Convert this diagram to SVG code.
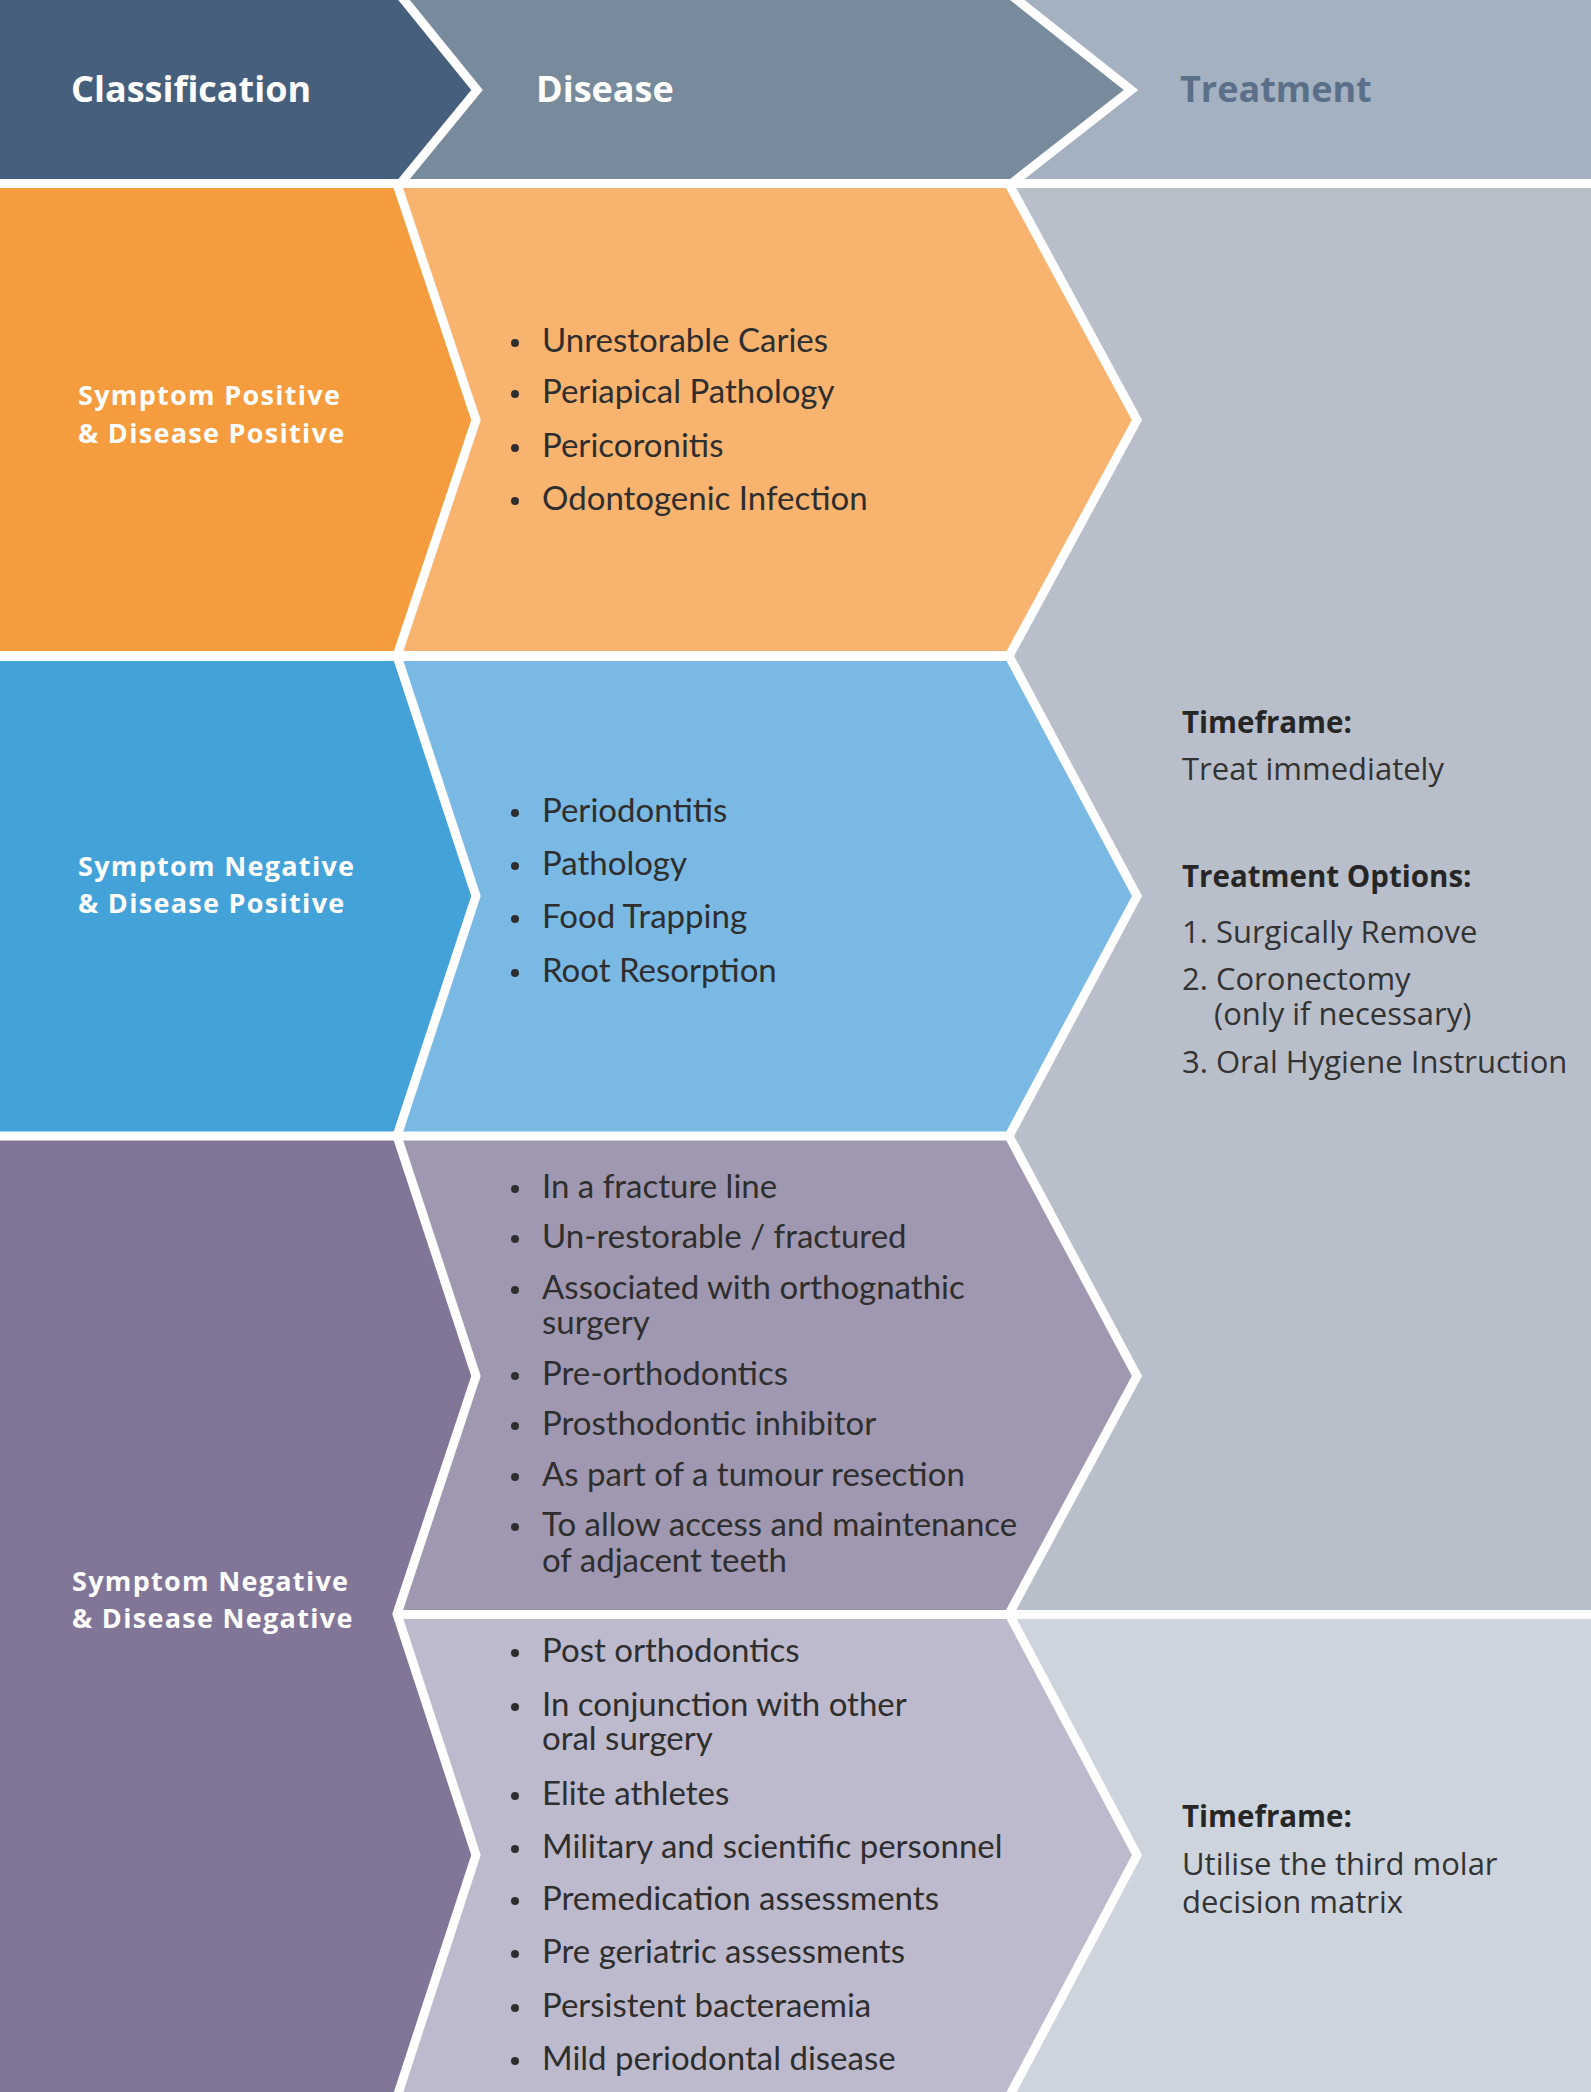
<svg xmlns="http://www.w3.org/2000/svg" width="1591" height="2092" viewBox="0 0 1591 2092">
<style>
.sep{fill:none;stroke:#ffffff;stroke-width:9;stroke-linejoin:miter}
.hd{font-family:"Open Sans",sans-serif;font-weight:bold;font-size:36px}
.lbl{font-family:"Open Sans",sans-serif;font-weight:bold;font-size:27px;letter-spacing:1.3px;fill:#ffffff}
.li{font-family:Lato,"Liberation Sans",sans-serif;font-size:33px;fill:#2e2e2e}
.tr{font-family:"Open Sans",sans-serif;font-size:31px;fill:#333333}
.trb{font-family:"Open Sans",sans-serif;font-size:29.5px;font-weight:bold;fill:#262626}
.dot{fill:#2e2e2e}
</style>
<rect width="1591" height="2092" fill="#ffffff"/>

<g id="header">
  <polygon points="0,0 400,0 477,90 400,179 0,179" fill="#465f7c"/>
  <polygon points="400,0 1011,0 1131,90 1011,179 400,179 477,90" fill="#778b9c"/>
  <polygon points="1011,0 1591,0 1591,179 1011,179 1131,90" fill="#a4b1c0"/>
  <polyline class="sep" points="400,-5 477,90 400,184"/>
  <polyline class="sep" points="1011,-5 1131,90 1011,184"/>
  <text class="hd" x="71" y="102" fill="#ffffff">Classification</text>
  <text class="hd" x="536" y="102" fill="#ffffff">Disease</text>
  <text class="hd" x="1180" y="102" fill="#5b6f89">Treatment</text>
</g>

<g id="treatment-upper">
  <polygon points="1009,188 1591,188 1591,1614 1009,1614 1137,1376 1009,1136 1137,896 1009,656 1137,420" fill="#b8bfcb"/>
  <text class="trb" x="1182" y="733">Timeframe:</text>
  <text class="tr" x="1182" y="780">Treat immediately</text>
  <text class="trb" x="1182" y="887">Treatment Options:</text>
  <text class="tr" x="1182" y="943">1. Surgically Remove</text>
  <text class="tr" x="1182" y="990">2. Coronectomy<tspan x="1214" y="1025">(only if necessary)</tspan></text>
  <text class="tr" x="1182" y="1073">3. Oral Hygiene Instruction</text>
</g>

<g id="treatment-lower">
  <polygon points="1009,1614 1591,1614 1591,2092 1009,2092 1137,1855" fill="#cdd4dd"/>
  <text class="trb" x="1182" y="1827">Timeframe:</text>
  <text class="tr" x="1182" y="1875">Utilise the third molar<tspan x="1182" y="1913">decision matrix</tspan></text>
</g>

<g id="class-sp-dp">
  <polygon points="0,188 397,188 476,420 397,651 0,651" fill="#f49c3e"/>
  <text class="lbl" x="78" y="405">Symptom Positive</text>
  <text class="lbl" x="78" y="443">&amp; Disease Positive</text>
</g>
<g id="class-sn-dp">
  <polygon points="0,661 397,661 476,896 397,1132 0,1132" fill="#43a2d8"/>
  <text class="lbl" x="78" y="876">Symptom Negative</text>
  <text class="lbl" x="78" y="913">&amp; Disease Positive</text>
</g>
<g id="class-sn-dn">
  <polygon points="0,1140 397,1140 476,1376 397,1614 476,1855 397,2092 0,2092" fill="#827698"/>
  <text class="lbl" x="72" y="1591">Symptom Negative</text>
  <text class="lbl" x="72" y="1628">&amp; Disease Negative</text>
</g>

<g id="disease-1">
  <polygon points="397,188 1009,188 1137,420 1009,651 397,651 476,420" fill="#f8b36f"/>
  <circle class="dot" cx="515" cy="343" r="4"/><text class="li" x="542" y="352">Unrestorable Caries</text>
  <circle class="dot" cx="515" cy="394" r="4"/><text class="li" x="542" y="403">Periapical Pathology</text>
  <circle class="dot" cx="515" cy="448" r="4"/><text class="li" x="542" y="457">Pericoronitis</text>
  <circle class="dot" cx="515" cy="501" r="4"/><text class="li" x="542" y="510">Odontogenic Infection</text>
</g>

<g id="disease-2">
  <polygon points="397,661 1009,661 1137,896 1009,1132 397,1132 476,896" fill="#7ab9e3"/>
  <circle class="dot" cx="515" cy="813" r="4"/><text class="li" x="542" y="822">Periodontitis</text>
  <circle class="dot" cx="515" cy="866" r="4"/><text class="li" x="542" y="875">Pathology</text>
  <circle class="dot" cx="515" cy="919" r="4"/><text class="li" x="542" y="928">Food Trapping</text>
  <circle class="dot" cx="515" cy="973" r="4"/><text class="li" x="542" y="982">Root Resorption</text>
</g>

<g id="disease-3">
  <polygon points="397,1140 1009,1140 1137,1376 1009,1611 397,1611 476,1376" fill="#a098b0"/>
  <circle class="dot" cx="515" cy="1189" r="4"/><text class="li" x="542" y="1198">In a fracture line</text>
  <circle class="dot" cx="515" cy="1239" r="4"/><text class="li" x="542" y="1248">Un-restorable / fractured</text>
  <circle class="dot" cx="515" cy="1290" r="4"/><text class="li" x="542" y="1299">Associated with orthognathic<tspan x="542" y="1334">surgery</tspan></text>
  <circle class="dot" cx="515" cy="1376" r="4"/><text class="li" x="542" y="1385">Pre-orthodontics</text>
  <circle class="dot" cx="515" cy="1426" r="4"/><text class="li" x="542" y="1435">Prosthodontic inhibitor</text>
  <circle class="dot" cx="515" cy="1477" r="4"/><text class="li" x="542" y="1486">As part of a tumour resection</text>
  <circle class="dot" cx="515" cy="1527" r="4"/><text class="li" x="542" y="1536">To allow access and maintenance<tspan x="542" y="1572">of adjacent teeth</tspan></text>
</g>

<g id="disease-4">
  <polygon points="397,1618 1009,1618 1137,1855 1009,2092 397,2092 476,1855" fill="#bebacd"/>
  <circle class="dot" cx="515" cy="1653" r="4"/><text class="li" x="542" y="1662">Post orthodontics</text>
  <circle class="dot" cx="515" cy="1707" r="4"/><text class="li" x="542" y="1716">In conjunction with other<tspan x="542" y="1750">oral surgery</tspan></text>
  <circle class="dot" cx="515" cy="1796" r="4"/><text class="li" x="542" y="1805">Elite athletes</text>
  <circle class="dot" cx="515" cy="1849" r="4"/><text class="li" x="542" y="1858">Military and scientific personnel</text>
  <circle class="dot" cx="515" cy="1901" r="4"/><text class="li" x="542" y="1910">Premedication assessments</text>
  <circle class="dot" cx="515" cy="1954" r="4"/><text class="li" x="542" y="1963">Pre geriatric assessments</text>
  <circle class="dot" cx="515" cy="2008" r="4"/><text class="li" x="542" y="2017">Persistent bacteraemia</text>
  <circle class="dot" cx="515" cy="2061" r="4"/><text class="li" x="542" y="2070">Mild periodontal disease</text>
</g>

<g id="connectors">
  <polyline class="sep" points="397,184 476,420 397,656 476,896 397,1136 476,1376 397,1614 476,1855 397,2097"/>
  <polyline class="sep" points="1009,184 1137,420 1009,656 1137,896 1009,1136 1137,1376 1009,1614 1137,1855 1009,2097"/>
  <line class="sep" x1="0" y1="656" x2="1009" y2="656" stroke-width="10"/>
  <line class="sep" x1="0" y1="1136" x2="1009" y2="1136" stroke-width="8"/>
  <line class="sep" x1="397" y1="1614.5" x2="1591" y2="1614.5" stroke-width="7"/>
  <line class="sep" x1="0" y1="183.5" x2="1591" y2="183.5" stroke-width="9"/>
</g>
</svg>
